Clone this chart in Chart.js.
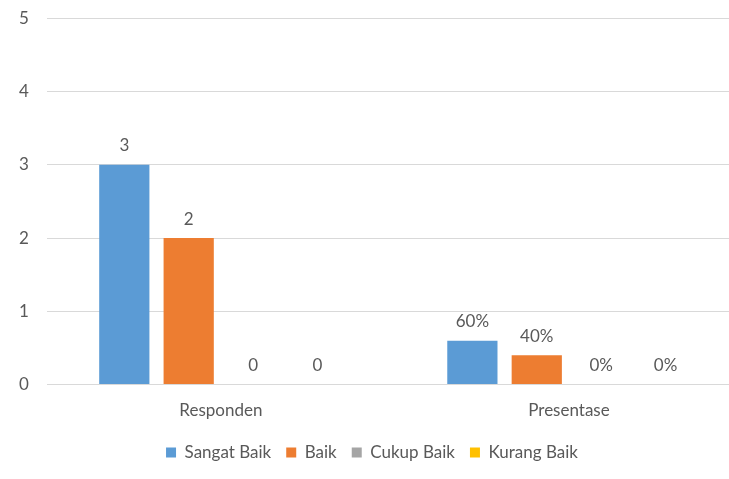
<!DOCTYPE html>
<html>
<head>
<meta charset="utf-8">
<script src="https://cdn.jsdelivr.net/npm/chart.js@4/dist/chart.umd.min.js"></script>
<style>
body { margin: 0; background: #fff; overflow: hidden; }
#wrap { width: 743px; height: 486px; margin-top: -10px; position: relative; }
</style>
</head>
<body>
<div id="wrap"><canvas id="grafica"></canvas></div>
<script>
var categorias = ["Responden", "Presentase"];
var series = ["Sangat Baik", "Baik", "Cukup Baik", "Kurang Baik"];
var colores = ["#5B9BD5", "#ED7D31", "#A5A5A5", "#FFC000"];
var responden = [3, 2, 0, 0];
var presentase = [0.6, 0.4, 0, 0];
var ticksY = [0, 1, 2, 3, 4, 5];

var grafica;
var fuente = { family: "Lato", size: 17 };

function etiqueta(valor, categoria) {
    if (categoria == 1) {
        return Math.round(valor * 100) + "%";
    }
    return String(valor);
}

var pluginEtiquetas = {
    id: "etiquetas",
    afterDatasetsDraw: function (chart) {
        var ctx = chart.ctx;
        ctx.save();
        ctx.font = "17px Lato";
        ctx.fillStyle = "#595959";
        ctx.textAlign = "center";
        ctx.textBaseline = "middle";
        chart.data.datasets.forEach(function (ds, i) {
            var meta = chart.getDatasetMeta(i);
            meta.data.forEach(function (bar, j) {
                ctx.fillText(etiqueta(ds.data[j], j), bar.x, bar.y - 19);
            });
        });
        ctx.restore();
    }
};

function crear_grafica() {
    var datasets = [];
    for (var i = 0; i < series.length; i++) {
        datasets.push({
            label: series[i],
            data: [responden[i], presentase[i]],
            backgroundColor: colores[i],
            borderWidth: 0,
            categoryPercentage: 0.74,
            barPercentage: 0.78
        });
    }
    var datos = {
        type: "bar",
        data: { labels: categorias, datasets: datasets },
        options: {
            responsive: true,
            maintainAspectRatio: false,
            animation: false,
            layout: { padding: { top: 0, left: 1, right: 0, bottom: 5 } },
            plugins: {
                tooltip: { enabled: false },
                legend: {
                    position: "bottom",
                    labels: {
                        boxWidth: 10,
                        boxHeight: 10,
                        padding: 15,
                        color: "#595959",
                        font: fuente
                    }
                }
            },
            scales: {
                x: {
                    grid: { display: false },
                    border: { display: false },
                    ticks: { color: "#595959", font: fuente, padding: 8 }
                },
                y: {
                    min: 0,
                    max: 5,
                    afterBuildTicks: function (axis) {
                        axis.ticks = ticksY.map(function (v) { return { value: v }; });
                    },
                    grid: { color: "#D9D9D9", drawTicks: false },
                    border: { display: false },
                    ticks: { color: "#595959", font: fuente, padding: 18 }
                }
            }
        },
        plugins: [pluginEtiquetas]
    };
    grafica = new Chart(document.getElementById("grafica"), datos);
}

crear_grafica();
</script>
</body>
</html>
